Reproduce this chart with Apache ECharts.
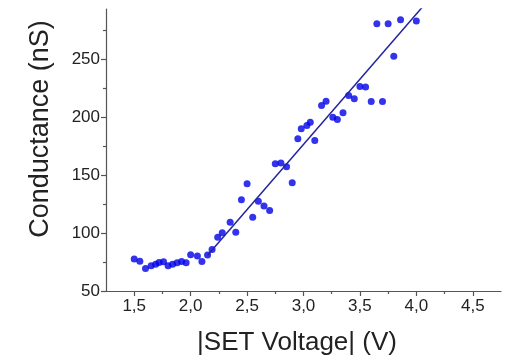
<!DOCTYPE html>
<html>
<head>
<meta charset="utf-8">
<script src="https://cdn.jsdelivr.net/npm/echarts@6/dist/echarts.min.js"></script>
<style>
  html, body { margin: 0; padding: 0; background: #fff; }
  #chart { width: 516px; height: 361px; }
</style>
</head>
<body>
<div id="chart"></div>
<script>
// Measured points: |SET voltage| (V) vs conductance (nS)
const voltage = [1.50, 1.55, 1.60, 1.65, 1.69, 1.72, 1.76, 1.80, 1.84, 1.88,
                 1.92, 1.96, 2.00, 2.06, 2.10, 2.15, 2.19, 2.24, 2.28, 2.35,
                 2.40, 2.45, 2.50, 2.55, 2.60, 2.65, 2.70, 2.75, 2.80, 2.85,
                 2.90, 2.95, 2.98, 3.03, 3.06, 3.10, 3.16, 3.20, 3.26, 3.30,
                 3.35, 3.40, 3.45, 3.50, 3.55, 3.60, 3.65, 3.70, 3.75, 3.80,
                 3.86, 4.00];
const conductance = [77.6, 75.6, 69.4, 71.7, 73.1, 74.6, 75.3, 71.7, 73.0, 74.3,
                     75.4, 74.4, 81.3, 80.2, 75.4, 81.0, 85.8, 96.4, 100.2, 109.3,
                     100.6, 128.6, 142.4, 113.6, 127.3, 123.3, 119.4, 159.7, 160.2, 157.1,
                     143.3, 181.2, 189.8, 192.7, 195.5, 179.7, 209.9, 213.6, 199.8, 197.8,
                     203.6, 218.5, 215.7, 226.3, 225.7, 213.4, 280.3, 213.4, 280.3, 252.2,
                     283.8, 282.6];

// Linear fit above the threshold (end points)
const fitVoltage = [2.15, 4.05];
const fitConductance = [80.9, 294.3];

// Axis ticks
const xMajorTicks = [1.5, 2.0, 2.5, 3.0, 3.5, 4.0, 4.5];
const xMinorTicks = [1.75, 2.25, 2.75, 3.25, 3.75, 4.25];
const yMajorTicks = [50, 100, 150, 200, 250];
const yMinorTicks = [75, 125, 175, 225, 275];

const FONT = '"Liberation Sans", Arial, sans-serif';
const AXIS_COLOR = '#555';
const TEXT_COLOR = '#222';

const xRange = { min: 1.25, max: 4.75 };
const yRange = { min: 50, max: 293 };

const chart = echarts.init(document.getElementById('chart'), null, { renderer: 'canvas' });

const pointData = voltage.map((v, i) => [v, conductance[i]]);
const fitData = fitVoltage.map((v, i) => [v, fitConductance[i]]);

chart.setOption({
  animation: false,
  backgroundColor: '#fff',
  grid: { left: 106, right: 15, top: 9, bottom: 70 },
  xAxis: [
    {
      type: 'value', position: 'bottom',
      min: xRange.min, max: xRange.max,
      splitLine: { show: false },
      axisLine: { lineStyle: { color: AXIS_COLOR, width: 1.2 } },
      axisTick: { customValues: xMajorTicks, length: 5, lineStyle: { color: AXIS_COLOR, width: 1.2 } },
      axisLabel: {
        customValues: xMajorTicks, margin: 7,
        fontFamily: FONT, fontSize: 17, color: TEXT_COLOR,
        formatter: v => v.toFixed(1).replace('.', ',')
      }
    },
    {
      type: 'value', position: 'bottom', offset: 0,
      min: xRange.min, max: xRange.max,
      splitLine: { show: false },
      axisLine: { show: false },
      axisTick: { customValues: xMinorTicks, length: 3, lineStyle: { color: AXIS_COLOR, width: 1.2 } },
      axisLabel: { show: false }
    }
  ],
  yAxis: [
    {
      type: 'value', position: 'left',
      min: yRange.min, max: yRange.max,
      splitLine: { show: false },
      axisLine: { show: true, lineStyle: { color: AXIS_COLOR, width: 1.2 } },
      axisTick: { show: true, customValues: yMajorTicks, length: 5, lineStyle: { color: AXIS_COLOR, width: 1.2 } },
      axisLabel: {
        customValues: yMajorTicks, margin: 6,
        fontFamily: FONT, fontSize: 17, color: TEXT_COLOR
      }
    },
    {
      type: 'value', position: 'left', offset: 0,
      min: yRange.min, max: yRange.max,
      splitLine: { show: false },
      axisLine: { show: false },
      axisTick: { show: true, customValues: yMinorTicks, length: 3, lineStyle: { color: AXIS_COLOR, width: 1.2 } },
      axisLabel: { show: false }
    }
  ],
  graphic: [
    {
      type: 'text', x: 297, y: 343,
      style: {
        text: '|SET Voltage| (V)', font: '26px ' + FONT, fill: TEXT_COLOR,
        textAlign: 'center', textVerticalAlign: 'middle'
      }
    },
    {
      type: 'text', x: 41, y: 129, rotation: Math.PI / 2,
      style: {
        text: 'Conductance (nS)', font: '27px ' + FONT, fill: TEXT_COLOR,
        textAlign: 'center', textVerticalAlign: 'middle'
      }
    }
  ],
  series: [
    {
      type: 'line', data: fitData, xAxisIndex: 0, yAxisIndex: 0,
      showSymbol: false, symbol: 'none', clip: true,
      lineStyle: { color: '#23239e', width: 1.5 },
      z: 3
    },
    {
      type: 'scatter', data: pointData, xAxisIndex: 0, yAxisIndex: 0,
      symbol: 'circle', symbolSize: 7,
      itemStyle: { color: '#0000e6' },
      z: 2
    }
  ]
});
</script>
</body>
</html>
